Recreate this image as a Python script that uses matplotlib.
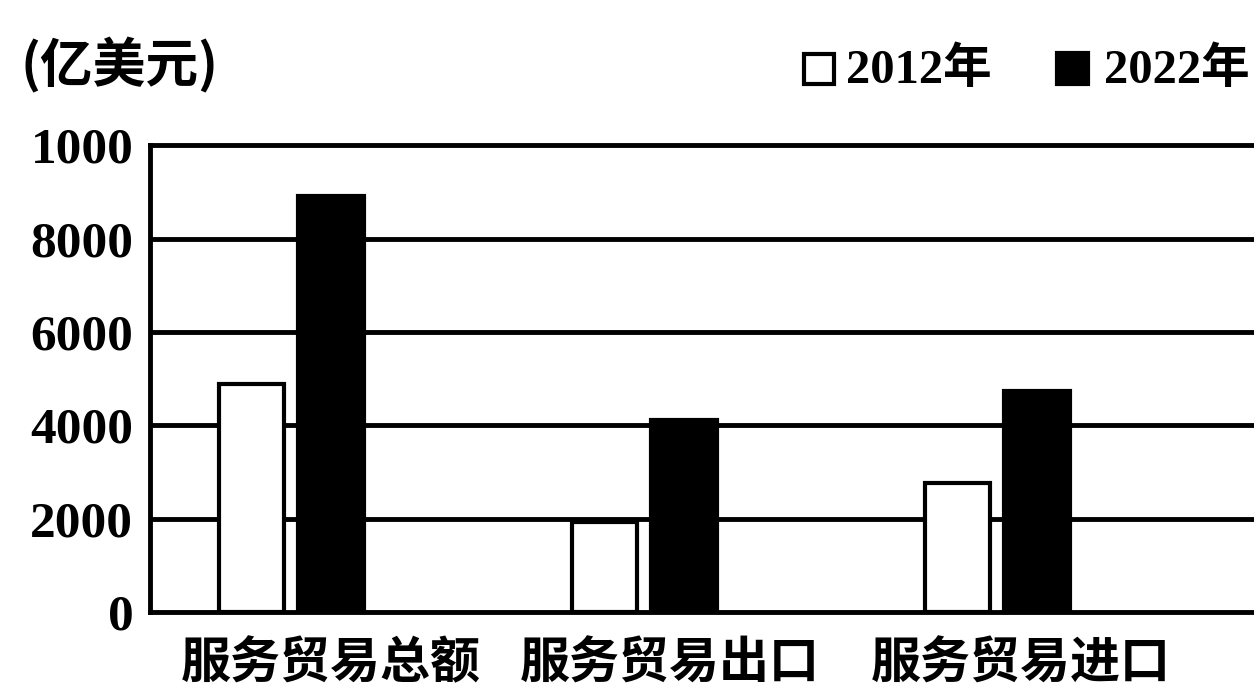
import matplotlib
matplotlib.use("Agg")
import matplotlib.pyplot as plt
import numpy as np

categories = ["服务贸易总额", "服务贸易出口", "服务贸易进口"]
series_names = ["2012年", "2022年"]
values_2012 = [4880, 1940, 2770]
values_2022 = [8900, 4110, 4730]
ytick_values = [0, 2000, 4000, 6000, 8000, 10000]
ytick_labels = ["0", "2000", "4000", "6000", "8000", "1000"]
unit_label = "(亿美元)"

cjk = ["Noto Sans CJK SC", "DejaVu Sans"]
num_font = ["Liberation Serif", "DejaVu Serif"]

fig = plt.figure(figsize=(12.54, 6.91), dpi=100)
ax = fig.add_axes([0.1196, 0.114, 0.95, 0.676])

x = np.arange(len(categories))
w = 0.185
off = 0.113
ax.bar(x - off, values_2012, width=w, color="white", edgecolor="black", linewidth=3, zorder=3)
ax.bar(x + off, values_2022, width=w, color="black", edgecolor="black", linewidth=3, zorder=3)

ax.set_xlim(-0.40, 2.975)
ax.set_ylim(0, 10000)
for v in ytick_values[1:-1]:
    ax.axhline(v, color="black", linewidth=3.5, zorder=1)

for s in ["left", "bottom", "top"]:
    ax.spines[s].set_linewidth(3.5)
ax.spines["right"].set_visible(False)

ax.set_yticks(ytick_values)
ax.set_yticklabels(ytick_labels, family=num_font, fontsize=37, fontweight="bold")
label_shift = np.array([0.113, 0.073, 0.067])
ax.set_xticks(x + label_shift)
ax.set_xticklabels(categories, family=cjk, fontsize=36, fontweight="bold")
ax.tick_params(axis="both", length=0)
ax.tick_params(axis="y", pad=12)
ax.tick_params(axis="x", pad=19)

fig.text(0.016, 0.905, unit_label, family=cjk, fontsize=38, fontweight="bold",
         ha="left", va="center")

# legend
fig.patches.append(plt.Rectangle((0.641, 0.878), 0.024, 0.044, transform=fig.transFigure,
                                 facecolor="white", edgecolor="black", linewidth=3))
fig.text(0.675, 0.898, series_names[0], family=["Liberation Serif", "Noto Sans CJK SC"],
         fontsize=35, fontweight="bold", ha="left", va="center")
fig.patches.append(plt.Rectangle((0.843, 0.878), 0.025, 0.046, transform=fig.transFigure,
                                 facecolor="black", edgecolor="black", linewidth=3))
fig.text(0.880, 0.898, series_names[1], family=["Liberation Serif", "Noto Sans CJK SC"],
         fontsize=35, fontweight="bold", ha="left", va="center")

fig.savefig("out.png", dpi=100, facecolor="white")
